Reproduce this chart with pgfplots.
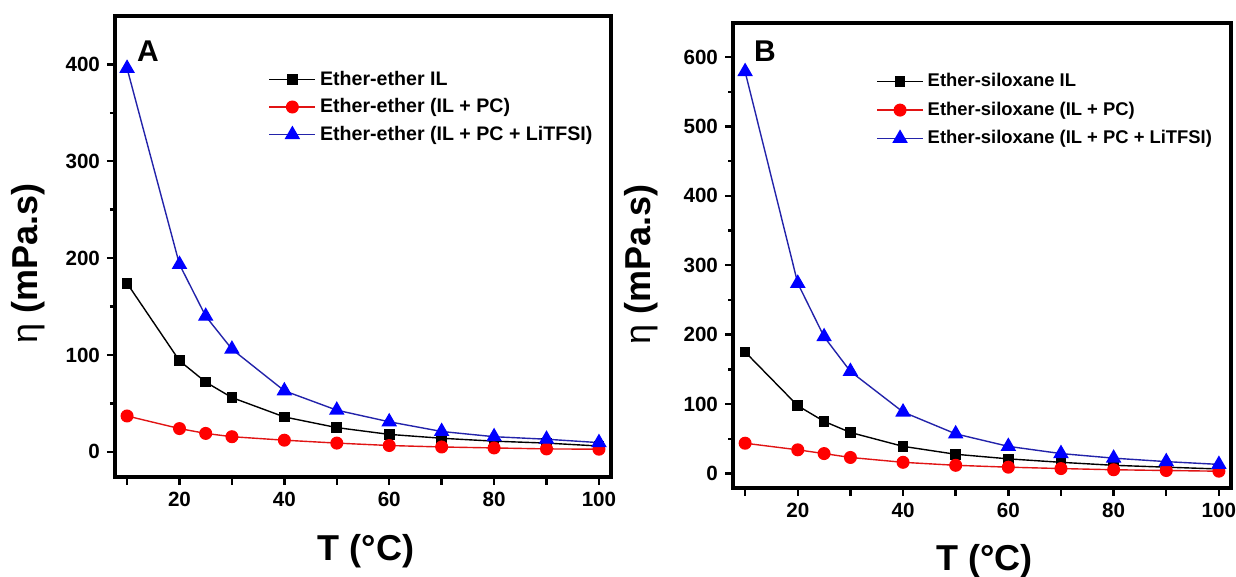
\documentclass[border=0pt]{standalone}
\usepackage{fontspec}
\setmainfont{Liberation Sans}
\usepackage{pgfplots}
\pgfplotsset{compat=1.18}

\definecolor{oblue}{RGB}{0,0,255}
\definecolor{lblue}{RGB}{35,35,170}
\definecolor{ored}{RGB}{255,0,0}
\definecolor{lred}{RGB}{225,20,20}

\pgfplotsset{
  vis/.style={
    scale only axis,
    axis line style={line width=1.6pt},
    tick style={black, line width=1.2pt},
    tick align=outside,
    xtick pos=bottom, ytick pos=left,
    major tick length=4pt, minor tick length=2.5pt,
    tick label style={font=\bfseries\fontsize{10.3}{12}\selectfont},
    /pgf/number format/assume math mode=true,
    xmin=7.7, xmax=102.3,
    xtick={10,20,...,100}, xticklabels={,20,,40,,60,,80,,100},
    minor y tick num=1,
    label style={font=\bfseries\fontsize{18}{20}\selectfont},
    legend style={draw=none, fill=none, font=\bfseries\fontsize{9.8}{11}\selectfont,
      row sep=1.2pt, inner sep=1pt},
    legend cell align=left,
    legend image code/.code={\draw[mark repeat=2,mark phase=2,##1] plot coordinates {(0pt,0pt) (11.5pt,0pt) (23pt,0pt)};},
  },
  s1/.style={black, line width=0.7pt, mark=square*, mark size=2.3pt},
  s2/.style={lred, line width=0.7pt, mark=*, mark size=2.9pt, mark options={fill=ored, draw=ored}},
  s3/.style={lblue, line width=0.7pt, mark=triangle*, mark size=3.8pt, mark options={fill=oblue, draw=oblue}},
}

\begin{document}
\begin{tikzpicture}
\useasboundingbox (0,0) rectangle (618pt,288.5pt);

% panel A
\begin{axis}[vis,
  at={(57.5pt,50pt)}, anchor=south west,
  width=248pt, height=230.5pt,
  ymin=-26, ymax=450, ytick={0,100,...,400},
  xlabel={T (°C)}, ylabel={{\mdseries η} (mPa.s)},
  xlabel style={at={(axis description cs:0.506,-0.16)}, anchor=center},
  ylabel style={at={(axis description cs:-0.175,0.464)}, anchor=center},
  legend style={at={(axis description cs:0.305,0.895)}, anchor=north west},
]
\addplot[s1] coordinates {(10,174) (20,94) (25,72) (30,56) (40,36) (50,25) (60,18) (70,14) (80,11) (90,9) (100,6)};
\addlegendentry{Ether-ether IL}
\addplot[s2] coordinates {(10,37) (20,24) (25,19) (30,15.6) (40,12) (50,9) (60,6.5) (70,5) (80,4) (90,3) (100,2.7)};
\addlegendentry{Ether-ether (IL + PC)}
\addplot[s3] coordinates {(10,396) (20,193.5) (25,140) (30,106) (40,63) (50,43) (60,31) (70,21) (80,15.6) (90,13) (100,9.5)};
\addlegendentry{Ether-ether (IL + PC + LiTFSI)}
\node[font=\bfseries\fontsize{15}{17}\selectfont] at (rel axis cs:0.0665,0.924) {A};
\end{axis}

% panel B
\begin{axis}[vis,
  at={(366.5pt,44.5pt)}, anchor=south west,
  width=249pt, height=232.5pt,
  ymin=-21, ymax=649, ytick={0,100,...,600},
  xlabel={T (°C)}, ylabel={{\mdseries η} (mPa.s)},
  xlabel style={at={(axis description cs:0.505,-0.157)}, anchor=center},
  ylabel style={at={(axis description cs:-0.184,0.48)}, anchor=center},
  legend style={at={(axis description cs:0.283,0.905)}, anchor=north west,
    font=\bfseries\fontsize{9.2}{11}\selectfont, row sep=2pt},
]
\addplot[s1] coordinates {(10,175) (20,97.5) (25,75) (30,59) (40,39) (50,27.6) (60,21) (70,16) (80,11.7) (90,9) (100,6.4)};
\addlegendentry{Ether-siloxane IL}
\addplot[s2] coordinates {(10,43.5) (20,34) (25,28.6) (30,23) (40,16) (50,11.7) (60,9) (70,7) (80,5.3) (90,4.2) (100,3.2)};
\addlegendentry{Ether-siloxane (IL + PC)}
\addplot[s3] coordinates {(10,579) (20,274) (25,197) (30,147) (40,88.5) (50,57) (60,39) (70,28.6) (80,22) (90,17) (100,13)};
\addlegendentry{Ether-siloxane (IL + PC + LiTFSI)}
\node[font=\bfseries\fontsize{15}{17}\selectfont] at (rel axis cs:0.064,0.94) {B};
\end{axis}
\end{tikzpicture}
\end{document}
